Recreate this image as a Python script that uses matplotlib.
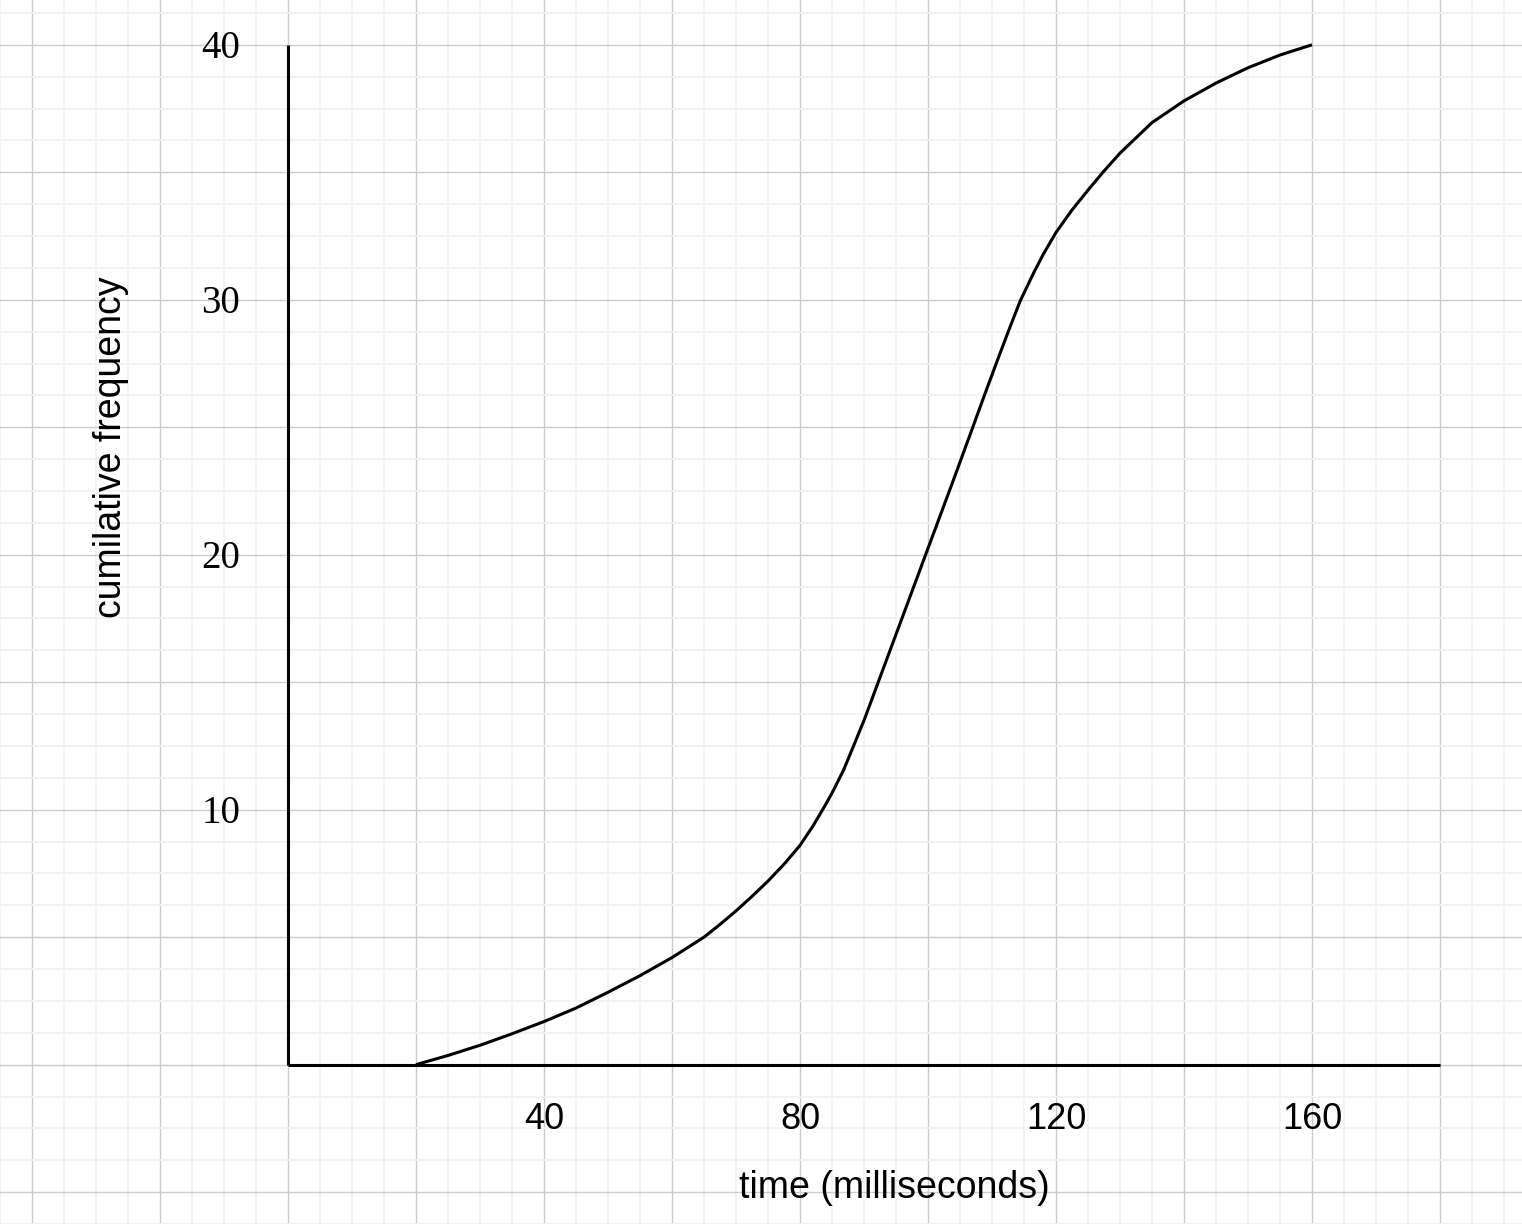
import matplotlib.pyplot as plt
import numpy as np

# values
time_ms = [20, 25, 30, 35, 40, 45, 50, 55, 60, 65, 67.5, 70, 72.5, 75, 77.5,
           80, 82, 84, 85, 86.8, 88.3, 90, 92, 96, 100, 104, 107, 109, 111,
           113, 114.4, 116.5, 118, 120, 122.5, 125, 127.5, 130, 135, 140,
           145, 150, 155, 160]
cum_freq = [0, 0.36, 0.76, 1.21, 1.69, 2.22, 2.84, 3.49, 4.2, 5.0, 5.5,
            6.03, 6.6, 7.2, 7.86, 8.6, 9.35, 10.2, 10.65, 11.55, 12.46,
            13.5, 14.85, 17.55, 20.25, 22.95, 25.0, 26.38, 27.73, 29.05,
            29.95, 31.05, 31.78, 32.64, 33.52, 34.3, 35.05, 35.75, 36.95,
            37.8, 38.5, 39.1, 39.6, 40.0]

xtick_vals = [40, 80, 120, 160]
ytick_vals = [10, 20, 30, 40]
x_max = 180
y_max = 40

fig = plt.figure(figsize=(15.22, 12.24), dpi=100)
ax = fig.add_axes([0, 0, 1, 1])

# axes cover the whole figure so the grid paper runs edge to edge
ax.set_xlim(-45, 192.8125)
ax.set_ylim(-6.0547, 41.7578)

ax.set_xticks(np.arange(-40, 200, 20))
ax.set_xticks(np.arange(-45, 195, 5), minor=True)
ax.set_yticks(np.arange(-5, 45, 5))
ax.set_yticks(np.arange(-6.25, 42.5, 1.25), minor=True)
ax.grid(which='major', color='#cccccc', linewidth=1.0)
ax.grid(which='minor', color='#f3f3f3', linewidth=1.4)
ax.tick_params(which='both', length=0, labelbottom=False, labelleft=False)
for s in ax.spines.values():
    s.set_visible(False)
ax.set_axisbelow(True)

# axis lines
ax.vlines(0, 0, y_max, color='black', linewidth=2.2, zorder=3)
ax.hlines(0, 0, x_max, color='black', linewidth=2.2, zorder=3)

ax.plot(time_ms, cum_freq, color='black', linewidth=2.2, zorder=4,
        solid_capstyle='butt', solid_joinstyle='round')

for v in xtick_vals:
    ax.text(v, -2.15, str(v), ha='center', va='center', fontsize=26,
            family='Liberation Sans')
for v in ytick_vals:
    ax.text(-10.5, v - 0.15, str(v), ha='center', va='center', fontsize=28,
            family='Liberation Serif')

ax.text(94.8, -4.85, 'time (milliseconds)', ha='center', va='center',
        fontsize=27, family='Liberation Sans')
ax.text(-27.6, 24.2, 'cumilative frequency', ha='center', va='center',
        rotation=90, fontsize=27, family='Liberation Sans')

fig.savefig('out.png', dpi=100)
